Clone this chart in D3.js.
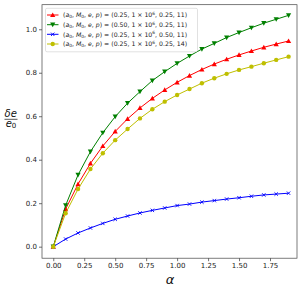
<!DOCTYPE html>
<html>
<head>
<meta charset="utf-8">
<script src="https://cdn.jsdelivr.net/npm/d3@7"></script>
<style>
  body { margin: 0; background: #fff; }
  svg { display: block; font-family: "DejaVu Sans", sans-serif; }
</style>
</head>
<body>
<script>
"use strict";

// alpha values on the x axis
const alphas = [0, 0.1, 0.2, 0.3, 0.4, 0.5, 0.6, 0.7, 0.8, 0.9,
                1.0, 1.1, 1.2, 1.3, 1.4, 1.5, 1.6, 1.7, 1.8, 1.9];

// delta e / e0 for each parameter set
const redVals = [0, 0.173, 0.288, 0.383, 0.463, 0.530, 0.588, 0.638, 0.682, 0.721,
                 0.756, 0.787, 0.815, 0.840, 0.862, 0.882, 0.900, 0.917, 0.932, 0.946];
const greenVals = [0, 0.190, 0.330, 0.437, 0.524, 0.598, 0.660, 0.713, 0.764, 0.805,
                   0.843, 0.877, 0.909, 0.935, 0.962, 0.985, 1.007, 1.028, 1.046, 1.064];
const blueVals = [0, 0.035, 0.063, 0.086, 0.107, 0.126, 0.141, 0.155, 0.167, 0.178,
                  0.189, 0.196, 0.205, 0.212, 0.219, 0.225, 0.232, 0.238, 0.242, 0.246];
const yellowVals = [0, 0.154, 0.265, 0.357, 0.430, 0.490, 0.541, 0.590, 0.632, 0.667,
                    0.698, 0.725, 0.752, 0.775, 0.795, 0.813, 0.828, 0.844, 0.859, 0.874];

// legend parameter tuples (a0, M0 exponent, e, p)
const legendParams = [
  ["0.25", "6", "0.25", "11"],
  ["0.50", "6", "0.25", "11"],
  ["0.25", "6", "0.50", "11"],
  ["0.25", "6", "0.25", "14"]
];

const xTicks = [0, 0.25, 0.5, 0.75, 1.0, 1.25, 1.5, 1.75];
const yTicks = [0, 0.2, 0.4, 0.6, 0.8, 1.0];

const series = [
  {values: redVals, color: "#ff0000", marker: "up"},
  {values: greenVals, color: "#008000", marker: "down"},
  {values: blueVals, color: "#0000ff", marker: "x"},
  {values: yellowVals, color: "#bfbf00", marker: "o"}
];

const W = 302, H = 292;
const box = {left: 42, right: 297, top: 4.7, bottom: 258.2};

const svg = d3.select("body").append("svg")
  .attr("width", W)
  .attr("height", H);

const x = d3.scaleLinear().domain([-0.091, 1.968]).range([box.left, box.right]);
const y = d3.scaleLinear().domain([-0.053, 1.113]).range([box.bottom, box.top]);

// axes
const xAxis = svg.append("g")
  .attr("transform", `translate(0,${box.bottom})`)
  .call(d3.axisBottom(x).tickValues(xTicks).tickFormat(d3.format(".2f")).tickSize(3).tickPadding(2));
const yAxis = svg.append("g")
  .attr("transform", `translate(${box.left},0)`)
  .call(d3.axisLeft(y).tickValues(yTicks).tickFormat(d3.format(".1f")).tickSize(3).tickPadding(2));

[xAxis, yAxis].forEach(a => {
  a.select(".domain").remove();
  a.selectAll(".tick line").attr("stroke", "#333").attr("stroke-width", 0.7);
  a.selectAll(".tick text").attr("fill", "#222").style("font-size", "7px")
    .style("font-family", "DejaVu Sans");
});

const plot = svg.append("g");
const line = d3.line().x((d, i) => x(alphas[i])).y(d => y(d));

function drawMarker(g, kind, cx, cy, color) {
  const s = 2.6;
  if (kind === "up") {
    g.append("path")
      .attr("d", `M${cx},${cy - s}L${cx + s},${cy + s * 0.8}L${cx - s},${cy + s * 0.8}Z`)
      .attr("fill", color);
  } else if (kind === "down") {
    g.append("path")
      .attr("d", `M${cx},${cy + s}L${cx + s},${cy - s * 0.8}L${cx - s},${cy - s * 0.8}Z`)
      .attr("fill", color);
  } else if (kind === "x") {
    const r = 1.7;
    g.append("path")
      .attr("d", `M${cx - r},${cy - r}L${cx + r},${cy + r}M${cx - r},${cy + r}L${cx + r},${cy - r}`)
      .attr("stroke", color).attr("stroke-width", 0.9).attr("fill", "none");
  } else {
    g.append("circle").attr("cx", cx).attr("cy", cy).attr("r", 2.2).attr("fill", color);
  }
}

series.forEach(s => {
  plot.append("path")
    .datum(s.values)
    .attr("fill", "none")
    .attr("stroke", s.color)
    .attr("stroke-width", 1)
    .attr("d", line);
  const mg = plot.append("g");
  s.values.forEach((v, i) => drawMarker(mg, s.marker, x(alphas[i]), y(v), s.color));
});

// frame
svg.append("rect")
  .attr("x", box.left).attr("y", box.top)
  .attr("width", box.right - box.left).attr("height", box.bottom - box.top)
  .attr("fill", "none").attr("stroke", "#444").attr("stroke-width", 0.7);

// legend
const leg = svg.append("g");
leg.append("rect")
  .attr("x", 45.5).attr("y", 8.3).attr("width", 152).attr("height", 43.5)
  .attr("rx", 1.5)
  .attr("fill", "rgba(255,255,255,0.8)").attr("stroke", "#cccccc").attr("stroke-width", 0.6);

const legY = [15, 24.7, 34.3, 44];
legendParams.forEach((p, i) => {
  const cy = legY[i];
  const s = series[i];
  leg.append("line")
    .attr("x1", 47).attr("x2", 58.5).attr("y1", cy).attr("y2", cy)
    .attr("stroke", s.color).attr("stroke-width", 1);
  drawMarker(leg, s.marker, 52.7, cy, s.color);
  const t = leg.append("text")
    .attr("x", 63).attr("y", cy + 2.2)
    .style("font-size", "6.2px")
    .attr("fill", "#222");
  t.append("tspan").text("(");
  t.append("tspan").attr("font-style", "italic").text("a");
  t.append("tspan").attr("font-size", "4.4px").attr("dy", 1.2).text("0");
  t.append("tspan").attr("dy", -1.2).text(", ");
  t.append("tspan").attr("font-style", "italic").text("M");
  t.append("tspan").attr("font-size", "4.4px").attr("dy", 1.2).text("0");
  t.append("tspan").attr("dy", -1.2).text(", ");
  t.append("tspan").attr("font-style", "italic").text("e");
  t.append("tspan").text(", ");
  t.append("tspan").attr("font-style", "italic").text("p");
  t.append("tspan").text(`) = (${p[0]}, 1 × 10`);
  t.append("tspan").attr("font-size", "4.4px").attr("dy", -2.4).text(p[1]);
  t.append("tspan").attr("dy", 2.4).text(`, ${p[2]}, ${p[3]})`);
});

// x label
svg.append("text")
  .attr("x", 170).attr("y", 283.5)
  .attr("text-anchor", "middle")
  .attr("font-style", "italic")
  .style("font-size", "13px")
  .attr("fill", "#111")
  .text("α");

// y label as a fraction
const yl = svg.append("g").attr("fill", "#111").attr("font-style", "italic").style("font-size", "10px");
yl.append("text").attr("x", 10.7).attr("y", 116.5).attr("text-anchor", "middle").text("δe");
yl.append("line").attr("x1", 4.5).attr("x2", 17.5).attr("y1", 119.3).attr("y2", 119.3)
  .attr("stroke", "#111").attr("stroke-width", 0.7);
const den = yl.append("text").attr("x", 11).attr("y", 126.7).attr("text-anchor", "middle");
den.append("tspan").text("e");
den.append("tspan").attr("font-style", "normal").style("font-size", "7px").attr("dy", 1.5).text("0");
</script>
</body>
</html>
